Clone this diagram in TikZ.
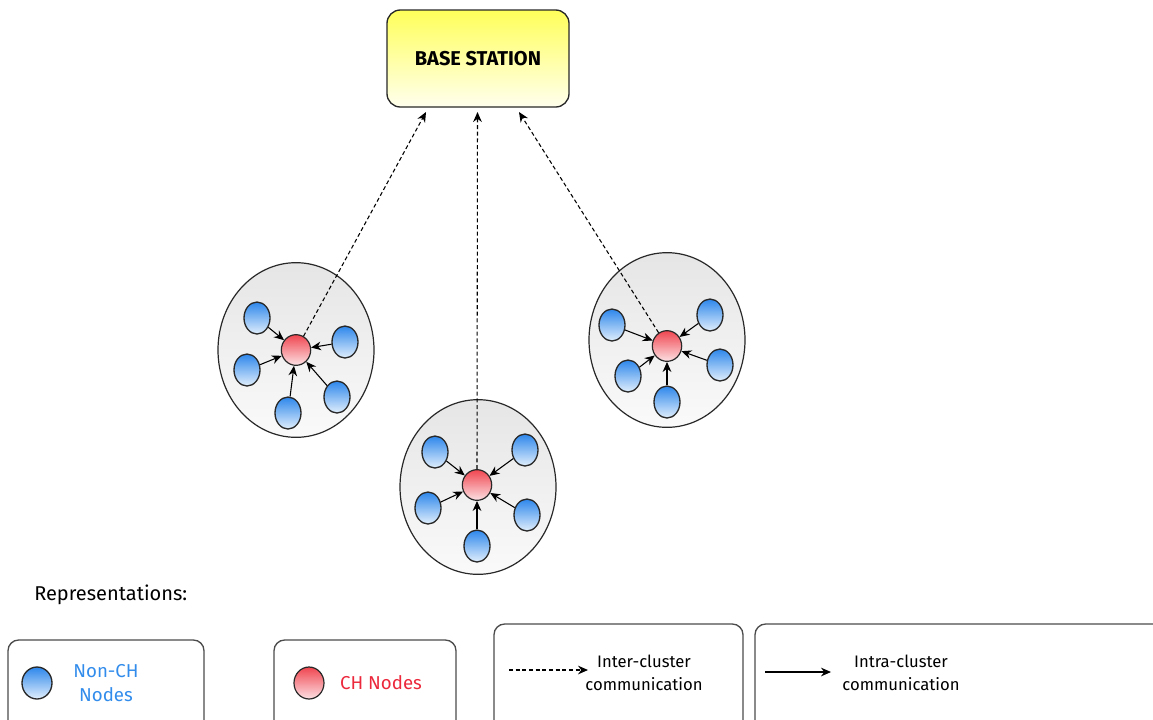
\documentclass[tikz,border=0pt]{standalone}
\usepackage{fontspec}
\setmainfont{Fira Sans}
\usetikzlibrary{arrows.meta,shapes.geometric,shadings}
\definecolor{bluetop}{RGB}{45,135,235}
\definecolor{bluebot}{RGB}{225,238,252}
\definecolor{redtop}{RGB}{240,70,80}
\definecolor{redbot}{RGB}{252,225,228}
\definecolor{ytop}{RGB}{255,255,90}
\definecolor{ybot}{RGB}{255,255,238}
\definecolor{edge}{RGB}{40,40,40}
\definecolor{legblue}{RGB}{50,140,235}
\definecolor{legred}{RGB}{235,40,60}
\begin{document}
\begin{tikzpicture}[x=0.75pt,y=-0.75pt,
  cluster/.style={ellipse, draw=edge, line width=0.9pt, top color=black!10, bottom color=black!2, minimum width=117pt, minimum height=131pt, inner sep=0pt},
  nonch/.style={ellipse, draw=edge, line width=1pt, top color=bluetop, bottom color=bluebot, minimum width=19.5pt, minimum height=24pt, inner sep=0pt},
  chnode/.style={ellipse, draw=edge, line width=0.9pt, top color=redtop, bottom color=redbot, minimum width=22pt, minimum height=23pt, inner sep=0pt},
  intra/.style={-{Stealth[length=7.5pt,width=6.5pt]}, line width=0.8pt, draw=black},
  inter/.style={-{Stealth[length=7.5pt,width=6.5pt]}, dash pattern=on 3pt off 2pt, line width=0.8pt, draw=black},
  legbox/.style={draw=black!70, line width=1pt, rounded corners=8pt},
  lbl/.style={font=\fontsize{12.5}{17}\selectfont, align=center, inner sep=0pt}
]
\useasboundingbox (0,0) rectangle (1153,719);
\clip (0,0) rectangle (1153,719);

% base station
\node[draw=edge, line width=1pt, rounded corners=10pt, top color=ytop, bottom color=ybot,
      minimum width=136.5pt, minimum height=72.75pt, inner sep=0pt,
      font=\bfseries\fontsize{15}{18}\selectfont] (bs) at (478,58.5) {BASE STATION};

% clusters
\node[cluster] (c1) at (296,350) {};
\node[cluster] (c2) at (478,487) {};
\node[cluster] (c3) at (667,340) {};

% cluster 1
\node[chnode] (h1) at (296,350) {};
\node[nonch] (a1) at (257,318) {};
\node[nonch] (a2) at (345,342) {};
\node[nonch] (a3) at (247,370) {};
\node[nonch] (a4) at (337,397) {};
\node[nonch] (a5) at (288,413) {};
\foreach \n in {a1,a2,a3,a4,a5} \draw[intra] (\n) -- (h1);

% cluster 2
\node[chnode] (h2) at (477,485) {};
\node[nonch] (b1) at (435,452) {};
\node[nonch] (b2) at (525,450) {};
\node[nonch] (b3) at (428,508) {};
\node[nonch] (b4) at (527,515) {};
\node[nonch] (b5) at (477,546) {};
\foreach \n in {b1,b2,b3,b4,b5} \draw[intra] (\n) -- (h2);

% cluster 3
\node[chnode] (h3) at (667,346) {};
\node[nonch] (d1) at (612,325) {};
\node[nonch] (d2) at (710,315) {};
\node[nonch] (d3) at (720,365) {};
\node[nonch] (d4) at (628,376) {};
\node[nonch] (d5) at (667,402) {};
\foreach \n in {d1,d2,d3,d4,d5} \draw[intra] (\n) -- (h3);

% inter-cluster
\coordinate (t1) at (426,112);
\coordinate (t2) at (477.5,112);
\coordinate (t3) at (519,112);
\draw[inter] (h1) -- (t1);
\draw[inter] (h2.north) -- (t2);
\draw[inter] (h3) -- (t3);

% legend
\node[font=\fontsize{15}{18}\selectfont, anchor=west, inner sep=0pt] (rep) at (34,595) {Representations:};

\draw[legbox] (8,640) rectangle (204,740);
\draw[legbox] (274,640) rectangle (456,740);
\draw[legbox] (494,624) rectangle (743,740);
\draw[legbox] (755,624) rectangle (1175,740);

\node[nonch, minimum width=22.5pt, minimum height=24pt] (ln) at (37,683) {};
\node[lbl, text=legblue, font=\fontsize{14}{18}\selectfont] (lnt) at (106,683) {Non-CH\\Nodes};
\node[chnode, minimum width=22.5pt, minimum height=24pt] (lc) at (309,683) {};
\node[lbl, text=legred, font=\fontsize{14}{18}\selectfont] (lct) at (381,683) {CH Nodes};

\coordinate (ia) at (509,670);
\coordinate (ib) at (588,670);
\draw[inter] (ia) -- (ib);
\node[lbl] (it) at (644,673) {Inter-cluster\\communication};

\coordinate (ja) at (765,672);
\coordinate (jb) at (831,672);
\draw[intra] (ja) -- (jb);
\node[lbl] (jt) at (901,673) {Intra-cluster\\communication};
\end{tikzpicture}
\end{document}
